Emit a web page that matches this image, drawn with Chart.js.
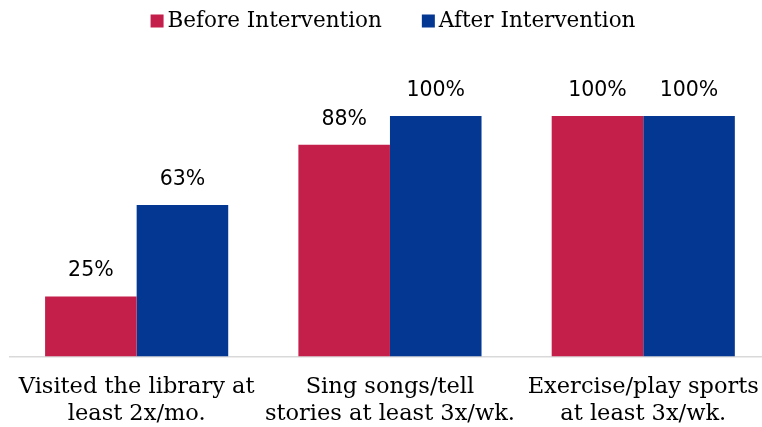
<!DOCTYPE html>
<html lang="en">
<head>
    <meta charset="UTF-8">
    <title>Before / After Intervention</title>
    <script src="https://cdn.jsdelivr.net/npm/chart.js"></script>
    <style>
        html, body {
            margin: 0;
            padding: 0;
            background: #fff;
            overflow: hidden;
        }
        /* chart area runs a little past the right edge, like the original crop */
        .chart-box {
            width: 776px;
            height: 427px;
        }
    </style>
</head>
<body>
    <div class="chart-box">
        <canvas id="barChart" width="776" height="427"></canvas>
    </div>
    <script>
        // Data
        var categories = [
            ['Visited the library at', 'least 2x/mo.'],
            ['Sing songs/tell', 'stories at least 3x/wk.'],
            ['Exercise/play sports', 'at least 3x/wk.']
        ];
        var seriesNames = ['Before Intervention', 'After Intervention'];
        var beforeValues = [25, 88, 100];
        var afterValues = [63, 100, 100];
        var seriesColors = ['#C41F4B', '#043791'];

        var serifFont = "'DejaVu Serif', serif";
        var sansFont = "'DejaVu Sans', sans-serif";

        // Legend drawn at the top, small squares with text close to them
        var topLegend = {
            id: 'topLegend',
            afterDraw: function(chart) {
                var ctx = chart.ctx;
                ctx.save();
                ctx.font = '21.5px ' + serifFont;
                ctx.textBaseline = 'middle';
                var box = 13, gap = 4, spacing = 40;
                var widths = seriesNames.map(function(n) { return box + gap + ctx.measureText(n).width; });
                var total = widths[0] + widths[1] + spacing;
                var x = 393 - total / 2;
                var y = 21;
                seriesNames.forEach(function(name, i) {
                    ctx.fillStyle = seriesColors[i];
                    ctx.fillRect(x, y - box / 2, box, box);
                    ctx.fillStyle = '#000';
                    ctx.fillText(name, x + box + gap, y);
                    x += widths[i] + spacing;
                });
                ctx.restore();
            }
        };

        // Percentage labels above each bar
        var valueLabels = {
            id: 'valueLabels',
            afterDatasetsDraw: function(chart) {
                var ctx = chart.ctx;
                ctx.save();
                ctx.font = '20.5px ' + sansFont;
                ctx.fillStyle = '#000';
                ctx.textAlign = 'center';
                ctx.textBaseline = 'bottom';
                chart.data.datasets.forEach(function(ds, i) {
                    chart.getDatasetMeta(i).data.forEach(function(bar, j) {
                        ctx.fillText(ds.data[j] + '%', bar.x, bar.y - 15);
                    });
                });
                ctx.restore();
            }
        };

        var ctxBar = document.getElementById('barChart').getContext('2d');
        var barChart = new Chart(ctxBar, {
            type: 'bar',
            data: {
                labels: categories,
                datasets: [{
                    label: seriesNames[0],
                    data: beforeValues,
                    backgroundColor: seriesColors[0]
                }, {
                    label: seriesNames[1],
                    data: afterValues,
                    backgroundColor: seriesColors[1]
                }]
            },
            options: {
                responsive: false,
                animation: false,
                categoryPercentage: 0.723,
                barPercentage: 1,
                layout: {
                    padding: { top: 116, left: 10, right: 1, bottom: 0 }
                },
                plugins: {
                    legend: { display: false },
                    tooltip: { enabled: false }
                },
                scales: {
                    x: {
                        grid: { display: false, drawTicks: false },
                        border: { display: true, color: '#d9d9d9', width: 1.5 },
                        afterFit: function(scale) {
                            scale.height = 70.5;
                        },
                        ticks: {
                            color: '#000',
                            padding: 17,
                            maxRotation: 0,
                            autoSkip: false,
                            font: { family: serifFont, size: 22.5, lineHeight: 1.2 }
                        }
                    },
                    y: {
                        display: false,
                        min: 0,
                        max: 100
                    }
                }
            },
            plugins: [topLegend, valueLabels]
        });
    </script>
</body>
</html>
